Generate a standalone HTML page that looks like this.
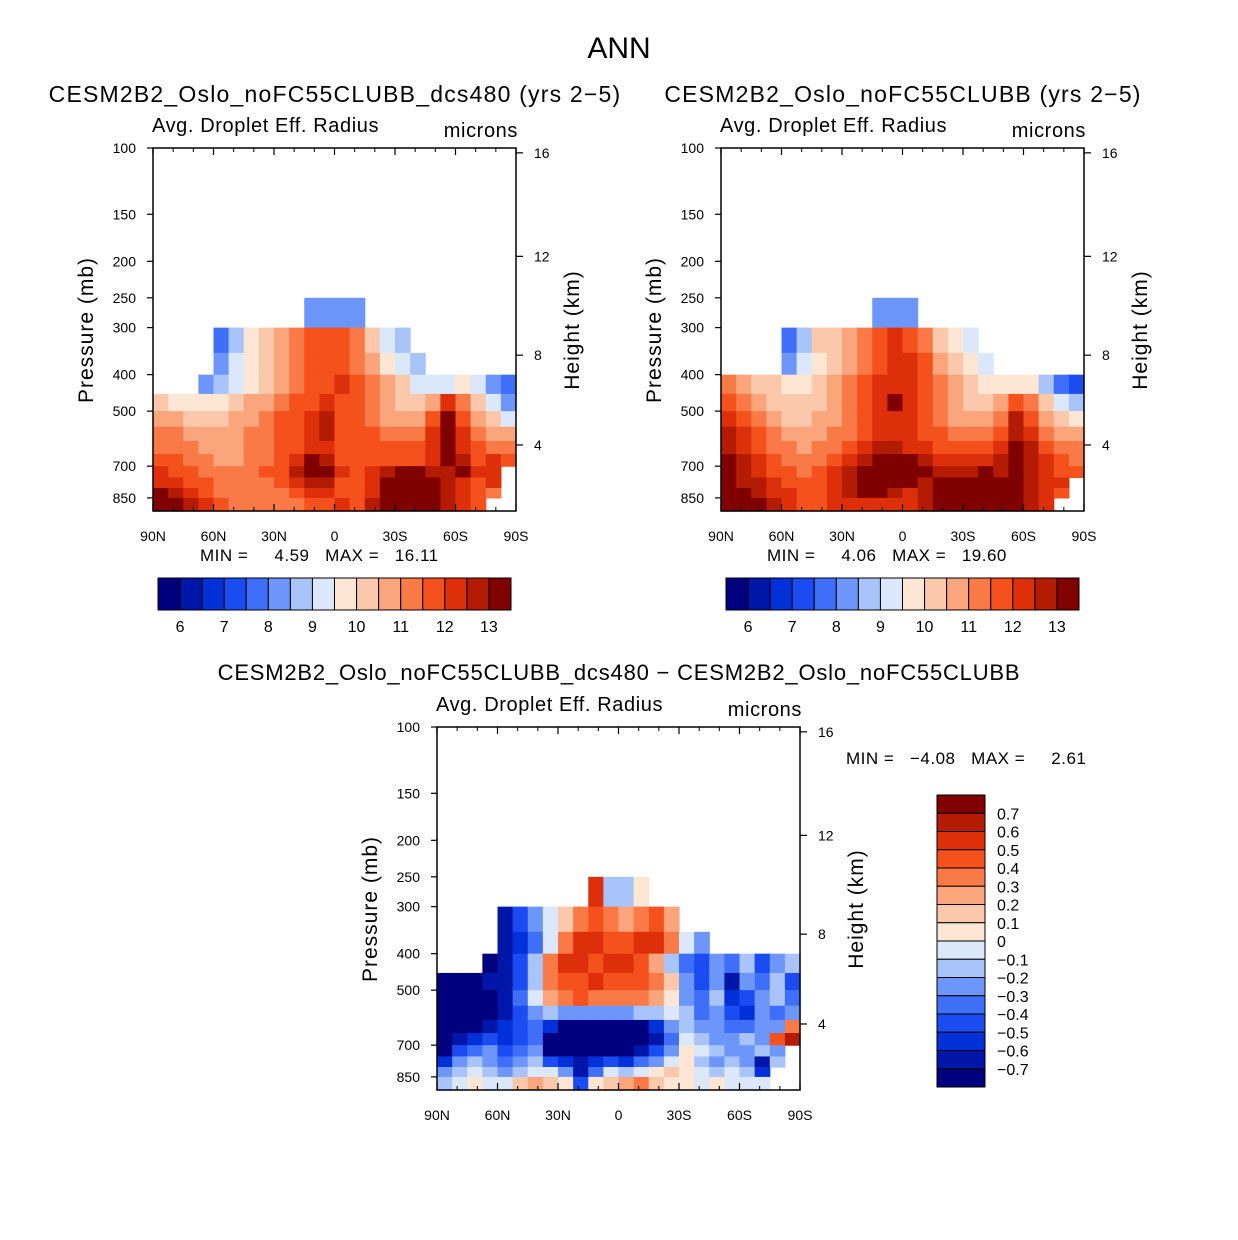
<!DOCTYPE html>
<html><head><meta charset="utf-8">
<style>
html,body{margin:0;padding:0;background:#fff;}
svg{display:block;font-family:"Liberation Sans",sans-serif;}
.pre{white-space:pre;}
</style></head>
<body>
<svg id="root" width="1238" height="1240" viewBox="0 0 1238 1240" xmlns="http://www.w3.org/2000/svg">
<text x="619" y="58" font-size="30" text-anchor="middle">ANN</text>
</svg>
<script>
// ---------- data ----------
const latCenters = [86.25,78.75,71.25,63.75,56.25,48.75,41.25,33.75,26.25,18.75,11.25,3.75,-3.75,-11.25,-18.75,-26.25,-33.75,-41.25,-48.75,-56.25,-63.75,-71.25,-78.75,-86.25];
const levelEdges = [250,300,350,400,450,500,550,600,650,700,750,800,850,925];
const pressureTicks = [100,150,200,250,300,400,500,700,850];
const heightTickLabels = [16,12,8,4];
const heightTickPressures = [103,194,355,615];
const latTickValues = [90,60,30,0,-30,-60,-90];
const latTickLabels = ["90N","60N","30N","0","30S","60S","90S"];
const N = null;
const panel1Values = [
[N,N,N,N,N,N,N,N,N,N,8,8,8,8,N,N,N,N,N,N,N,N,N,N],
[N,N,N,N,7.5,8.5,9.5,10,10.5,11,11.5,11.5,11.5,11,10,9,8.5,N,N,N,N,N,N,N],
[N,N,N,N,8,9,9.5,10,10.5,11,11.5,11.5,11.5,11,10.5,9.5,9,8.5,N,N,N,N,N,N],
[N,N,N,8,8.5,9,9.5,10,10.5,11,11.5,11.5,12,11.5,11,10.5,10,9,9,9,9.5,9,8,7.5],
[10,9.5,9.5,9.5,9.5,10,10.5,10.5,11,11.5,11.5,12,11.5,11.5,11,10.5,10,10,10.5,12,11,10,9,8],
[10.5,10.5,10,10,10,10.5,10.5,11,11.5,11.5,12,12.5,11.5,11.5,11,10.5,10.5,10.5,11.5,13,11.5,10.5,10,9],
[11,11,10.5,10.5,10.5,10.5,11,11,11.5,11.5,12,12.5,11.5,11.5,11.5,11,11,11,12,13,12,11,10.5,10.5],
[11,11,11,10.5,10.5,10.5,11,11,11.5,11.5,12,12,11.5,11.5,11.5,11.5,11.5,11.5,12,13,12,11.5,11,11],
[11.5,11.5,11,11,10.5,10.5,11,11,11.5,12,13,12.5,11.5,11.5,11.5,11.5,11.5,11.5,12,13,12.5,11.5,12,11.5],
[12,11.5,11.5,11,11,11,11,11.5,11.5,12.5,13,13,12,11.5,12,12.5,13,13,12.5,12.5,13,12,12,N],
[12,12,11.5,11.5,11,11,11,11,11.5,12,12.5,12.5,11.5,11.5,12,13,13.5,13.5,13,12.5,12,11.5,12,N],
[13,12.5,12,11.5,11,11,11,11,11,11.5,12,12,11.5,11.5,12,13.5,13.5,13.5,13,12.5,12,11.5,11,N],
[13.5,13,12.5,12,11.5,11,11,11,11,11,11.5,11.5,12,11.5,12.5,13.5,13.5,13.5,13,12.5,12,11.5,N,N]];
const panel2Values = [
[N,N,N,N,N,N,N,N,N,N,8,8,8,N,N,N,N,N,N,N,N,N,N,N],
[N,N,N,N,7.5,8.5,10,10,10.5,11,11.5,12,11.5,11,10,9.5,9,N,N,N,N,N,N,N],
[N,N,N,N,8,9,9.5,10,10.5,11,11.5,12,12,11.5,10.5,10,9.5,9,N,N,N,N,N,N],
[11,10.5,10,10,9.5,9.5,10,10.5,11,11.5,12,12,12,11.5,11,10.5,10,9.5,9.5,9.5,9.5,8.5,7.5,7],
[11.5,11,10.5,10,10,10,10,10.5,11,11.5,12,13,12,11.5,11,10.5,10,10,10.5,11.5,11,10,9,8.5],
[12,11.5,11,10.5,10,10,10.5,10.5,11,11.5,12,12,12,11.5,11,10.5,10.5,10.5,11,12.5,11.5,10.5,10,9.5],
[12.5,12,11.5,11,10.5,10.5,10.5,11,11,11.5,12,12,12,11.5,11.5,11,11,11,11.5,12.5,12,11,10.5,10.5],
[12.5,12,11.5,11,11,10.5,11,11,11.5,12,12.5,12.5,12,12,11.5,11.5,11.5,11.5,12,13,12.5,11.5,11,11],
[13,12.5,12,11.5,11,11,11,11.5,12,12.5,13,13,13,12.5,12,12,12,12,12.5,13,12.5,12,11.5,11],
[13,12.5,12,11.5,11.5,11,11.5,12,12.5,13,13.5,13.5,13.5,13,12.5,12.5,12.5,13,12.5,13,12.5,12,11.5,11.5],
[13,12.5,12.5,12,11.5,11.5,11.5,12,12.5,13,13.5,13.5,13,12.5,13,13,13.5,13.5,13,13,12.5,12,12,N],
[13,13,12.5,12,12,11.5,11.5,12,12.5,13,13,12.5,12,12.5,13.5,13.5,14,14,13.5,13,12.5,12,11.5,N],
[13.5,13,13,12.5,12,11.5,11.5,12,12,12,12,12,12,12.5,13.5,14,14,14,13.5,13,12.5,12,N,N]];
const diffValues = [
[N,N,N,N,N,N,N,N,N,N,0.5,-0.2,-0.2,0,N,N,N,N,N,N,N,N,N,N],
[N,N,N,N,-0.7,-0.5,-0.3,-0.1,0.1,0.3,0.4,0.3,0.2,0.3,0.4,0.2,N,N,N,N,N,N,N,N],
[N,N,N,N,-0.7,-0.6,-0.4,-0.1,0.3,0.5,0.5,0.4,0.4,0.5,0.5,0.3,-0.1,-0.3,N,N,N,N,N,N],
[N,N,N,-0.8,-0.7,-0.5,-0.2,0.3,0.5,0.5,0.4,0.5,0.5,0.4,0.2,-0.2,-0.4,-0.5,-0.3,-0.4,-0.2,-0.5,-0.3,-0.2],
[-0.8,-0.8,-0.8,-0.7,-0.7,-0.5,-0.2,0.3,0.4,0.4,0.5,0.4,0.4,0.4,0.3,0.1,-0.3,-0.5,-0.3,-0.7,-0.3,-0.4,-0.2,-0.5],
[-0.8,-0.8,-0.8,-0.8,-0.7,-0.4,-0.1,0.2,0.3,0.4,0.3,0.3,0.3,0.3,0.2,0,-0.3,-0.4,-0.2,-0.6,-0.5,-0.3,-0.2,-0.4],
[-0.8,-0.8,-0.8,-0.8,-0.7,-0.5,-0.3,-0.2,-0.3,-0.3,-0.3,-0.3,-0.3,-0.2,-0.2,-0.1,-0.2,-0.4,-0.3,-0.5,-0.6,-0.3,-0.4,-0.3],
[-0.8,-0.8,-0.8,-0.7,-0.6,-0.5,-0.4,-0.6,-0.8,-0.8,-0.8,-0.8,-0.8,-0.8,-0.6,-0.3,-0.2,-0.3,-0.3,-0.4,-0.4,-0.3,-0.3,0.3],
[-0.8,-0.7,-0.6,-0.5,-0.6,-0.5,-0.4,-0.8,-0.8,-0.8,-0.8,-0.8,-0.8,-0.8,-0.7,-0.4,-0.1,-0.2,-0.3,-0.3,-0.2,-0.3,0.4,0.6],
[-0.8,-0.5,-0.4,-0.3,-0.5,-0.4,-0.3,-0.8,-0.8,-0.8,-0.8,-0.8,-0.8,-0.7,-0.5,-0.3,0,-0.1,-0.2,-0.3,-0.3,-0.2,-0.3,N],
[-0.6,-0.3,-0.2,-0.3,-0.4,-0.3,-0.2,-0.5,-0.6,-0.7,-0.6,-0.5,-0.6,-0.4,-0.3,-0.1,0,-0.2,-0.3,-0.2,-0.3,-0.7,-0.2,N],
[-0.3,-0.2,-0.1,-0.2,-0.3,-0.2,-0.1,-0.1,-0.3,-0.7,-0.4,-0.1,-0.2,-0.1,0,0.1,0,-0.1,-0.2,-0.1,-0.2,-0.6,N,N],
[-0.2,-0.1,0,-0.1,-0.1,0.1,0.2,0.1,0,-0.5,0,0.1,0.2,0.3,0.1,0,0,-0.1,0,-0.1,-0.1,-0.1,N,N]];
const absLevels = [6,6.5,7,7.5,8,8.5,9,9.5,10,10.5,11,11.5,12,12.5,13];
const absLabels = ["6","7","8","9","10","11","12","13"];
const diffLevels = [-0.7,-0.6,-0.5,-0.4,-0.3,-0.2,-0.1,0,0.1,0.2,0.3,0.4,0.5,0.6,0.7];
const diffLabels = ["−0.7","−0.6","−0.5","−0.4","−0.3","−0.2","−0.1","0","0.1","0.2","0.3","0.4","0.5","0.6","0.7"];
const colors = ['#00007f','#0016a8','#0030d8','#1a4cf2','#3f6ff8','#6d96fa','#a8c4fb','#dbe8fc','#fde6d4','#fcc8ab','#fba57c','#f97a47','#f4511d','#dd300a','#b41b03','#800000'];

// ---------- helpers ----------
const NS = "http://www.w3.org/2000/svg";
const root = document.getElementById('root');
function mk(tag, attrs, parent){const e=document.createElementNS(NS,tag);for(const k in attrs)e.setAttribute(k,attrs[k]);(parent||root).appendChild(e);return e;}
const PW = 363, PH = 363, LNSCALE = 163.5;
function colorIndex(v, levels){let i=0;while(i<levels.length && v>=levels[i]) i++;return i;}

function drawPanel(ox, oy, values, levels, name){
  const g = mk('g', {});
  
  
  const xS = lat => ox + (90 - lat) / 180 * PW;
  const yS = p => oy + Math.log(p / 100) * LNSCALE;
  const bottomP = 100 * Math.exp(PH / LNSCALE);
  const dLat = 7.5;
  for (let r = 0; r < values.length; r++) {
    const pTop = levelEdges[r];
    const pBot = r + 1 < levelEdges.length ? levelEdges[r + 1] : bottomP;
    const y0 = yS(pTop), y1 = Math.min(yS(pBot), oy + PH);
    for (let c = 0; c < latCenters.length; c++) {
      const v = values[r][c];
      if (v === null) continue;
      const x0 = xS(latCenters[c] + dLat / 2), x1 = xS(latCenters[c] - dLat / 2);
      const cell = mk('rect', {x: x0.toFixed(2), y: y0.toFixed(2), width: (x1 - x0 + 0.6).toFixed(2), height: (y1 - y0 + 0.6).toFixed(2), fill: colors[colorIndex(v, levels)]}, g);
      
      
    }
  }
  const frame = mk('rect', {x: ox, y: oy, width: PW, height: PH, fill: 'none', stroke: '#000', 'stroke-width': 1.5}, g);
  
  
  pressureTicks.forEach(p => {
    const y = yS(p);
    mk('line', {x1: ox - 6, x2: ox, y1: y, y2: y, stroke: '#000', 'stroke-width': 1.2}, g);
    const t = mk('text', {x: ox - 17, y: y + 5, 'font-size': 14, 'text-anchor': 'end'}, g);
    t.textContent = p;
    
    
  });
  heightTickPressures.forEach((p, i) => {
    const y = yS(p);
    mk('line', {x1: ox + PW, x2: ox + PW + 7, y1: y, y2: y, stroke: '#000', 'stroke-width': 1.2}, g);
    const t = mk('text', {x: ox + PW + 18, y: y + 5, 'font-size': 14}, g);
    t.textContent = heightTickLabels[i];
    
    
  });
  latTickValues.forEach((lat, i) => {
    const x = xS(lat);
    mk('line', {x1: x, x2: x, y1: oy + PH, y2: oy + PH - 7, stroke: '#000', 'stroke-width': 1.2}, g);
    mk('line', {x1: x, x2: x, y1: oy, y2: oy + 7, stroke: '#000', 'stroke-width': 1.2}, g);
    const t = mk('text', {x: x, y: oy + PH + 30, 'font-size': 14, 'text-anchor': 'middle'}, g);
    t.textContent = latTickLabels[i];
    
    
  });
  for (let lat = 80; lat > -90; lat -= 10) {
    const x = xS(lat);
    mk('line', {x1: x, x2: x, y1: oy + PH, y2: oy + PH - 4, stroke: '#000'}, g);
    mk('line', {x1: x, x2: x, y1: oy, y2: oy + 4, stroke: '#000'}, g);
  }
  const pl = mk('text', {x: 0, y: 0, 'font-size': 21, 'letter-spacing': 1, 'text-anchor': 'middle', transform: `translate(${ox - 60},${oy + 182}) rotate(-90)`}, g);
  pl.textContent = 'Pressure (mb)';
  
  
  const hl = mk('text', {x: 0, y: 0, 'font-size': 21, 'letter-spacing': 1, 'text-anchor': 'middle', transform: `translate(${ox + PW + 63},${oy + 182}) rotate(-90)`}, g);
  hl.textContent = 'Height (km)';
  
  
  const v1 = mk('text', {x: ox - 1, y: oy - 16, 'font-size': 20, 'letter-spacing': 0.6}, g);
  v1.textContent = 'Avg. Droplet Eff. Radius';
  
  
  const v2 = mk('text', {x: ox + PW + 2, y: oy - 11, 'font-size': 20, 'letter-spacing': 0.6, 'text-anchor': 'end'}, g);
  v2.textContent = 'microns';
  
  
}

function hColorbar(x0, y0, name){
  const g = mk('g', {});
  
  
  const w = 353 / colors.length;
  colors.forEach((c, i) => {
    const b = mk('rect', {x: x0 + i * w, y: y0, width: w, height: 32, fill: c, stroke: '#000', 'stroke-width': 1}, g);
    
    
  });
  absLabels.forEach((l, i) => {
    const t = mk('text', {x: x0 + w * (1 + 2 * i), y: y0 + 54, 'font-size': 16, 'text-anchor': 'middle'}, g);
    t.textContent = l;
    
    
  });
}
function text(x, y, s, size, name, anchor, ls){
  const t = mk('text', {x: x, y: y, 'font-size': size, 'text-anchor': anchor || 'start', 'letter-spacing': ls || 0, 'class': 'pre'});
  t.textContent = s;
  
  
  return t;
}

// ---------- build ----------
text(335, 102, 'CESM2B2_Oslo_noFC55CLUBB_dcs480 (yrs 2−5)', 23, 'panel1-title', 'middle', 1.2);
text(903, 102, 'CESM2B2_Oslo_noFC55CLUBB (yrs 2−5)', 23, 'panel2-title', 'middle', 1.2);
text(619, 680, 'CESM2B2_Oslo_noFC55CLUBB_dcs480 − CESM2B2_Oslo_noFC55CLUBB', 22, 'panel3-title', 'middle', 0.8);
drawPanel(153, 148, panel1Values, absLevels, 'panel1-plot');
drawPanel(721, 148, panel2Values, absLevels, 'panel2-plot');
drawPanel(437, 727, diffValues, diffLevels, 'panel3-plot');
text(200, 561, 'MIN =     4.59   MAX =   16.11', 17, 'panel1-minmax', 'start', 0.5);
text(767, 561, 'MIN =     4.06   MAX =   19.60', 17, 'panel2-minmax', 'start', 0.5);
text(846, 764, 'MIN =   −4.08   MAX =     2.61', 17, 'panel3-minmax', 'start', 0.5);
hColorbar(158, 578, 'panel1-colorbar');
hColorbar(726, 578, 'panel2-colorbar');
(function(){
  const g = mk('g', {});
  
  
  const h = 292 / colors.length;
  for (let i = 0; i < colors.length; i++) {
    const b = mk('rect', {x: 937, y: 795 + i * h, width: 48, height: h, fill: colors[colors.length - 1 - i], stroke: '#000', 'stroke-width': 1}, g);
    
    
  }
  for (let i = 0; i < diffLevels.length; i++) {
    const t = mk('text', {x: 997, y: 795 + (i + 1) * h + 6, 'font-size': 16}, g);
    t.textContent = diffLabels[diffLabels.length - 1 - i];
    
    
  }
})();
</script>
</body></html>
